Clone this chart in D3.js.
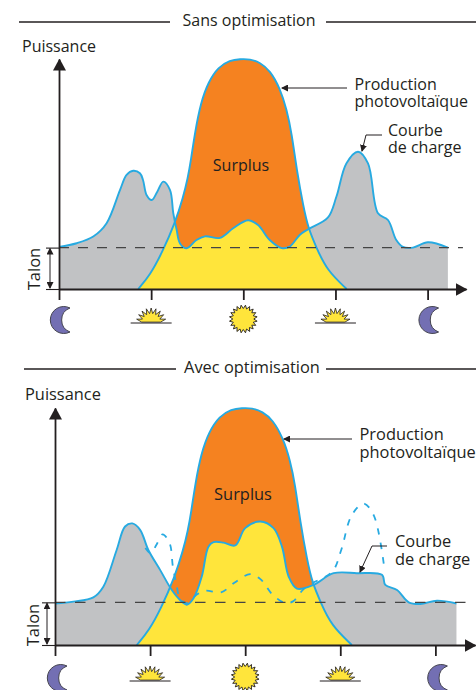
<!DOCTYPE html>
<html lang="fr">
<head>
<meta charset="utf-8">
<title>Autoconsommation</title>
<script src="https://cdn.jsdelivr.net/npm/d3@7"></script>
<style>
  html, body { margin: 0; padding: 0; background: #fff; }
  svg { display: block; }
  text { font-family: "Open Sans", sans-serif; fill: #231f20; }
</style>
</head>
<body>
<svg id="chart" width="476" height="690"></svg>
<script>
// Hours of the day against power, 100 = photovoltaic peak
const hourTicks = [0, 6, 12, 18, 24];
const talon = 18;
const talonExtent = [0, 26.3];

const pvHours = [5.16, 5.93, 6.69, 7.55, 8.09, 8.38, 8.6, 8.85, 9.23, 9.72, 10.37, 11.13, 11.79, 12.44, 13.09, 13.74, 14.39, 14.83, 15.15, 15.48, 15.91, 16.23, 16.78, 17.43, 18.73];
const pvPower = [0, 6.1, 15.5, 28.6, 40.1, 48, 56.4, 68, 81, 90, 96.5, 99.5, 100, 100, 98.5, 95, 87.3, 78, 67.7, 51.7, 35.8, 26.4, 17.7, 8.3, 0];

const loadHours = [0, 1.15, 2.23, 3.1, 3.97, 4.4, 4.83, 5.27, 5.47, 5.7, 6.04, 6.4, 6.79, 7.23, 7.44, 7.66, 7.88, 8.31, 8.95, 9.5, 10.48, 11.34, 12.31, 12.96, 13.72, 14.5, 15.02, 15.67, 16.22, 17.5, 18.06, 18.71, 19.47, 20.12, 20.77, 21.42, 21.96, 22.4, 23.05, 24.02, 25.32];
const loadPower = [18.3, 19.9, 22.8, 28.6, 43, 49.6, 51.4, 50.3, 47.4, 40.9, 38.7, 42.3, 46.7, 43, 33, 25.7, 19.8, 17.7, 21.3, 22.9, 22.2, 26.4, 29.9, 27.8, 21.3, 17.8, 18.4, 23.5, 26, 31, 40.1, 54.6, 59.7, 54.6, 32.9, 30, 21.3, 18.3, 18, 20.3, 18];

const optHours = [0, 1.16, 2.42, 3.05, 3.89, 4.42, 4.88, 5.37, 5.89, 6.63, 7.37, 7.89, 8.32, 8.74, 9.26, 9.68, 10, 10.63, 11.37, 12, 12.95, 13.79, 14.32, 14.74, 15.26, 16.32, 17.58, 19.05, 20.63, 20.84, 21.58, 22.32, 23.05, 24.1, 25.33];
const optPower = [17.5, 18.3, 20.1, 24.6, 40.1, 50, 51.3, 48.6, 40.1, 31.7, 23.2, 19, 17, 19.7, 28.9, 41.5, 43.4, 43.2, 42, 49.3, 52.1, 49.3, 41.5, 28.9, 23.8, 25.4, 30.3, 30.3, 29.6, 25.4, 23.2, 18, 17.3, 18.7, 17.5];

const dashedRange = [5.6, 20.8];

const iconKinds = ["moon", "rise", "sun", "rise", "moon"];

const pts = (hours, power) => hours.map((h, i) => [h, power[i]]);
const pvPts = pts(pvHours, pvPower);
const loadPts = pts(loadHours, loadPower);
const optPts = pts(optHours, optPower);
const shiftedPts = loadPts.filter(d => d[0] >= dashedRange[0] && d[0] <= dashedRange[1]);

const COL = { grey: "#c1c2c4", orange: "#f58220", yellow: "#ffe53b", blue: "#27aae1", dark: "#231f20", moon: "#736fb3" };
const xMax = 26.5;

const svg = d3.select("#chart");
const defs = svg.append("defs");

function addHead(id, w, h, color) {
    defs.append("marker").attr("id", id)
        .attr("viewBox", `0 0 ${w} ${h}`)
        .attr("markerUnits", "userSpaceOnUse")
        .attr("markerWidth", w).attr("markerHeight", h)
        .attr("refX", w - 1).attr("refY", h / 2)
        .attr("orient", "auto-start-reverse")
        .append("path").attr("d", `M0,0L${w},${h / 2}L0,${h}Z`).attr("fill", color);
}
addHead("axisHead", 12, 13, COL.dark);
addHead("smallHead", 7, 7, COL.dark);

const panels = [
    {
        id: "p1", load: loadPts, dashed: null, title: "Sans optimisation", font: 16, leading: 17,
        left: 59, right: 466, base: 289, peak: 59, talonDash: "10,9",
        rule: { y: 22, a: [19, 170], b: [326, 476], tx: 249, ty: 26 },
        puissance: [22, 52], surplus: [241, 171],
        talonText: [40, 269], talonX: 50,
        prod: { x: 354.5, y: 90, arrow: [[347, 88], [282, 88]] },
        courbe: { x: 388, y: 136, arrow: [[382, 135], [366, 135], [362, 151]] },
        iconY: 323, sunY: 319, moonY: 320, moonDx: 5
    },
    {
        id: "p2", load: optPts, dashed: shiftedPts, title: "Avec optimisation", font: 16.4, leading: 17.5,
        left: 55, right: 475, base: 645, peak: 408, talonDash: "10.5,9.5",
        rule: { y: 369, a: [24, 176], b: [326, 476], tx: 252, ty: 373 },
        puissance: [25, 400], surplus: [243, 500],
        talonText: [39, 625], talonX: 47,
        prod: { x: 359.5, y: 440, arrow: [[352, 439], [284, 439]] },
        courbe: { x: 395, y: 547, arrow: [[387, 546], [372, 546], [360, 572]] },
        iconY: 681, sunY: 677, moonY: 678, moonDx: 6
    }
];

function starPoints(cx, cy, outer, inner, count, from, to) {
    const out = [];
    const steps = count * 2;
    for (let i = 0; i <= steps; i++) {
        const a = from + (to - from) * i / steps;
        const r = i % 2 ? outer : inner;
        out.push([cx + r * Math.sin(a), cy - r * Math.cos(a)]);
    }
    return out;
}

function drawIcon(g, kind, cx, p) {
    if (kind === "moon") {
        const mx = cx + p.moonDx, my = p.moonY;
        g.append("path")
            .attr("d", `M${mx + 6},${my - 12} A13.5,13.5 0 1 0 ${mx + 6},${my + 12} A12.8,12.8 0 0 1 ${mx + 6},${my - 12}Z`)
            .attr("fill", COL.moon).attr("stroke", "#45454f").attr("stroke-width", 1);
    } else if (kind === "sun") {
        g.append("path")
            .attr("d", d3.line()(starPoints(cx, p.sunY, 14, 10.5, 20, 0, Math.PI * 2)) + "Z")
            .attr("fill", COL.yellow).attr("stroke", COL.dark).attr("stroke-width", 0.9);
    } else {
        const half = Math.PI * 0.47;
        g.append("path")
            .attr("d", d3.line()(starPoints(cx, p.iconY, 15, 9.5, 9, -half, half)) + "Z")
            .attr("fill", COL.yellow).attr("stroke", COL.dark).attr("stroke-width", 0.8);
        g.append("line")
            .attr("x1", cx - 20.5).attr("x2", cx + 20.5)
            .attr("y1", p.iconY).attr("y2", p.iconY)
            .attr("stroke", COL.dark).attr("stroke-width", 1);
    }
}

function label(g, x, y, str, size, anchor) {
    return g.append("text").attr("x", x).attr("y", y)
        .attr("font-size", size + "px").attr("text-anchor", anchor || "start").text(str);
}

function label2(g, x, y, lines, size, leading) {
    const t = g.append("text").attr("x", x).attr("y", y).attr("font-size", size + "px");
    lines.forEach((s, i) => t.append("tspan").attr("x", x).attr("dy", i ? leading : 0).text(s));
}

panels.forEach(p => {
    const g = svg.append("g").attr("id", p.id);
    const x = d3.scaleLinear().domain([0, xMax]).range([p.left, p.right]);
    const y = d3.scaleLinear().domain([0, 100]).range([p.base, p.peak]);

    const loadCurve = d3.curveCatmullRom.alpha(0.5);
    const pvCurve = d3.curveBasis;
    const area = (c) => d3.area().x(d => x(d[0])).y0(y(0)).y1(d => y(d[1])).curve(c);
    const line = (c) => d3.line().x(d => x(d[0])).y(d => y(d[1])).curve(c);
    const pvArea = area(pvCurve)(pvPts);
    const loadArea = area(loadCurve)(p.load);

    // Yellow = what the load takes out of the production, so load area clipped by PV area
    defs.append("clipPath").attr("id", p.id + "-pv").append("path").attr("d", pvArea);

    g.append("path").attr("d", loadArea).attr("fill", COL.grey);
    g.append("path").attr("d", pvArea).attr("fill", COL.orange);
    g.append("path").attr("d", loadArea).attr("fill", COL.yellow)
        .attr("clip-path", `url(#${p.id}-pv)`);

    if (p.dashed) {
        g.append("path").attr("d", line(loadCurve)(p.dashed)).attr("fill", "none")
            .attr("stroke", COL.blue).attr("stroke-width", 1.8).attr("stroke-dasharray", "6.5,8");
    }
    g.append("path").attr("d", line(pvCurve)(pvPts)).attr("fill", "none")
        .attr("stroke", COL.blue).attr("stroke-width", 1.9);
    g.append("path").attr("d", line(loadCurve)(p.load)).attr("fill", "none")
        .attr("stroke", COL.blue).attr("stroke-width", 1.9);

    g.append("path")
        .attr("d", d3.line().x(d => x(d)).y(y(talon))(talonExtent))
        .attr("fill", "none").attr("stroke", "#444").attr("stroke-width", 1.3)
        .attr("stroke-dasharray", p.talonDash);

    // Axes
    const xAxis = g.append("g").attr("transform", `translate(0,${p.base})`)
        .call(d3.axisBottom(x).tickValues(hourTicks).tickSize(11).tickSizeOuter(0).tickFormat(""));
    xAxis.select(".domain").attr("stroke-width", 1.8).attr("marker-end", "url(#axisHead)");
    xAxis.selectAll(".tick line").attr("stroke-width", 1.8);

    const yAxis = g.append("g").attr("transform", `translate(${p.left},0)`)
        .call(d3.axisLeft(y).tickValues([0, talon]).tickSize(13).tickSizeOuter(0).tickFormat(""));
    yAxis.select(".domain").attr("stroke-width", 1.8).attr("marker-end", "url(#axisHead)");
    yAxis.selectAll(".tick line").attr("stroke-width", 1.1);

    g.selectAll(".domain, .tick line").attr("stroke", COL.dark);

    // Talon height arrow
    g.append("line")
        .attr("x1", p.talonX).attr("x2", p.talonX)
        .attr("y1", y(talon) + 1).attr("y2", y(0) - 1)
        .attr("stroke", COL.dark).attr("stroke-width", 1)
        .attr("marker-start", "url(#smallHead)").attr("marker-end", "url(#smallHead)");
    g.append("text")
        .attr("transform", `translate(${p.talonText[0]},${p.talonText[1]}) rotate(-90)`)
        .attr("font-size", "16.5px").attr("text-anchor", "middle").text("Talon");

    // Header rule
    [p.rule.a, p.rule.b].forEach(seg => {
        g.append("line").attr("x1", seg[0]).attr("x2", seg[1])
            .attr("y1", p.rule.y).attr("y2", p.rule.y)
            .attr("stroke", COL.dark).attr("stroke-width", 1.7);
    });
    label(g, p.rule.tx, p.rule.ty, p.title, p.font, "middle");

    label(g, p.puissance[0], p.puissance[1], "Puissance", p.font);
    label(g, p.surplus[0], p.surplus[1], "Surplus", p.font, "middle");

    // Callouts
    label2(g, p.prod.x, p.prod.y, ["Production", "photovoltaïque"], p.font, p.leading);
    label2(g, p.courbe.x, p.courbe.y, ["Courbe", "de charge"], p.font, p.leading);
    [p.prod.arrow, p.courbe.arrow].forEach(a => {
        g.append("path").attr("d", d3.line()(a)).attr("fill", "none")
            .attr("stroke", COL.dark).attr("stroke-width", 1)
            .attr("marker-end", "url(#smallHead)");
    });

    hourTicks.forEach((h, i) => drawIcon(g, iconKinds[i], x(h), p));
});
</script>
</body>
</html>
